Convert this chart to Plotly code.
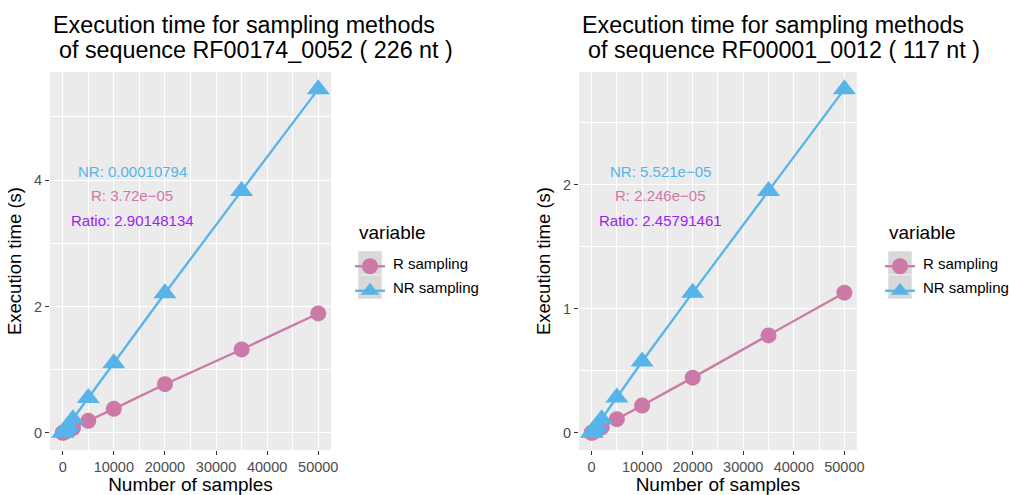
import plotly.graph_objects as go

# number of samples drawn
samples = [10, 100, 500, 1000, 2000, 5000, 10000, 20000, 35000, 50000]

# RF00174_0052 (226 nt)
left_r = [0.0004, 0.0037, 0.019, 0.037, 0.075, 0.19, 0.38, 0.77, 1.32, 1.89]
left_nr = [0.001, 0.011, 0.054, 0.108, 0.216, 0.55, 1.10, 2.21, 3.83, 5.44]
left_labels = ["NR: 0.00010794", "R: 3.72e\u221205", "Ratio: 2.90148134"]
left_title = ["Execution time for sampling methods", " of sequence RF00174_0052 ( 226 nt )"]

# RF00001_0012 (117 nt)
right_r = [0.0002, 0.0022, 0.011, 0.0225, 0.045, 0.11, 0.22, 0.445, 0.785, 1.13]
right_nr = [0.0006, 0.0055, 0.028, 0.055, 0.11, 0.285, 0.575, 1.13, 1.95, 2.77]
right_labels = ["NR: 5.521e\u221205", "R: 2.246e\u221205", "Ratio: 2.45791461"]
right_title = ["Execution time for sampling methods", " of sequence RF00001_0012 ( 117 nt )"]

series_names = ["R sampling", "NR sampling"]
legend_title = "variable"

R_COL = "#CC79A7"
NR_COL = "#56B4E9"
RATIO_COL = "#A020F0"
FONT = "Liberation Sans, Arial, sans-serif"
W, H = 1009, 495


def gg_range(vals):
    lo, hi = min(vals), max(vals)
    pad = (hi - lo) * 0.05
    return [lo - pad, hi + pad]


fig = go.Figure()

panels = [
    ("", left_r, left_nr, left_labels, left_title, (50, 331), 2, 1, "legend", 358),
    ("2", right_r, right_nr, right_labels, right_title, (579, 857), 1, 0.5, "legend2", 888),
]

for suf, r_vals, nr_vals, labels, title, (px0, px1), ydt, yminor, leg, lx in panels:
    xa = "x" + suf
    ya = "y" + suf
    # names shown via annotations next to the keys (keeps the legend inside the page)
    fig.add_trace(go.Scatter(
        x=samples, y=r_vals, xaxis=xa, yaxis=ya, mode="lines+markers",
        name="", legend=leg, legendgroup="r" + suf,
        hovertemplate=series_names[0] + ": %{x}, %{y}<extra></extra>",
        line=dict(color=R_COL, width=2.3),
        marker=dict(color=R_COL, size=16, symbol="circle"),
    ))
    fig.add_trace(go.Scatter(
        x=samples, y=nr_vals, xaxis=xa, yaxis=ya, mode="lines+markers",
        name="", legend=leg, legendgroup="nr" + suf,
        hovertemplate=series_names[1] + ": %{x}, %{y}<extra></extra>",
        line=dict(color=NR_COL, width=2.3),
        marker=dict(color=NR_COL, size=20, symbol="triangle-up"),
    ))

    axis_common = dict(
        showgrid=True, gridcolor="white", gridwidth=1.1, zeroline=False,
        ticks="outside", ticklen=4, tickcolor="#333333", tickwidth=1.1,
        tickfont=dict(family=FONT, size=14.5, color="#4D4D4D"),
        showline=False, automargin=False, tickformat="d",
    )
    fig.update_layout(**{
        "xaxis" + suf: dict(
            axis_common, domain=[px0 / W, px1 / W], anchor=ya,
            range=gg_range(samples), dtick=10000, tick0=0,
            minor=dict(dtick=5000, showgrid=True, gridcolor="white", gridwidth=0.55),
            title=dict(text="Number of samples", font=dict(family=FONT, size=19, color="black"), standoff=4),
        ),
        "yaxis" + suf: dict(
            axis_common, domain=[1 - 450 / H, 1 - 72 / H], anchor=xa,
            range=gg_range(r_vals + nr_vals), dtick=ydt, tick0=0,
            minor=dict(dtick=yminor, showgrid=True, gridcolor="white", gridwidth=0.55),
            title=dict(text="Execution time (s)", font=dict(family=FONT, size=18.5, color="black"), standoff=7),
        ),
    })

    # panel background
    fig.add_shape(type="rect", xref="x" + suf + " domain", yref="y" + suf + " domain",
                  x0=0, x1=1, y0=0, y1=1, fillcolor="#EBEBEB", line_width=0, layer="below")

    # slope / ratio annotations
    rng = gg_range(r_vals + nr_vals)
    span = rng[1] - rng[0]
    for i, (txt, col) in enumerate(zip(labels, [NR_COL, R_COL, RATIO_COL])):
        fig.add_annotation(
            x=13600, y=rng[1] - span * (0.262 + 0.065 * i), xref=xa, yref=ya,
            text=txt, showarrow=False, font=dict(family=FONT, size=15, color=col),
        )

    # two-line title
    for j, line in enumerate(title):
        fig.add_annotation(
            x=(px0 + 1 + 6 * j) / W, y=1 - (25 + 25 * j) / H, xref="paper", yref="paper",
            xanchor="left", yanchor="middle", text=line.strip(), showarrow=False,
            font=dict(family=FONT, size=23.3, color="black"),
        )

    # legend title and key labels
    fig.add_annotation(x=(lx - 1) / W, y=1 - 232 / H, xref="paper", yref="paper",
                       xanchor="left", yanchor="middle", text=legend_title, showarrow=False,
                       font=dict(family=FONT, size=19, color="black"))
    for k, nm in enumerate(series_names):
        fig.add_annotation(x=(lx + 33) / W, y=1 - (263 + 24 * k) / H, xref="paper", yref="paper",
                           xanchor="left", yanchor="middle", text=nm, showarrow=False,
                           font=dict(family=FONT, size=15, color="black"))
    # grey key boxes behind legend symbols
    for ky in (251, 275):
        fig.add_shape(type="rect", xref="paper", yref="paper",
                      x0=lx / W, x1=(lx + 24) / W, y0=1 - (ky + 24) / H, y1=1 - ky / H,
                      fillcolor="#D9D9D9", line=dict(color="white", width=0.5), layer="below")

legend_common = dict(
    xanchor="left", yanchor="top", bgcolor="rgba(0,0,0,0)",
    font=dict(family=FONT, size=15, color="black"),
    itemwidth=30, tracegroupgap=2,
)

fig.update_layout(
    width=W, height=H,
    margin=dict(l=0, r=0, t=0, b=0),
    paper_bgcolor="white", plot_bgcolor="white",
    showlegend=True,
    legend=dict(legend_common, x=350 / W, y=1 - 250 / H),
    legend2=dict(legend_common, x=880 / W, y=1 - 250 / H),
)

fig.write_html(
    "out.html",
    config={"displayModeBar": False},
    post_script="document.body.style.margin='0';document.body.style.overflow='hidden';",
)
